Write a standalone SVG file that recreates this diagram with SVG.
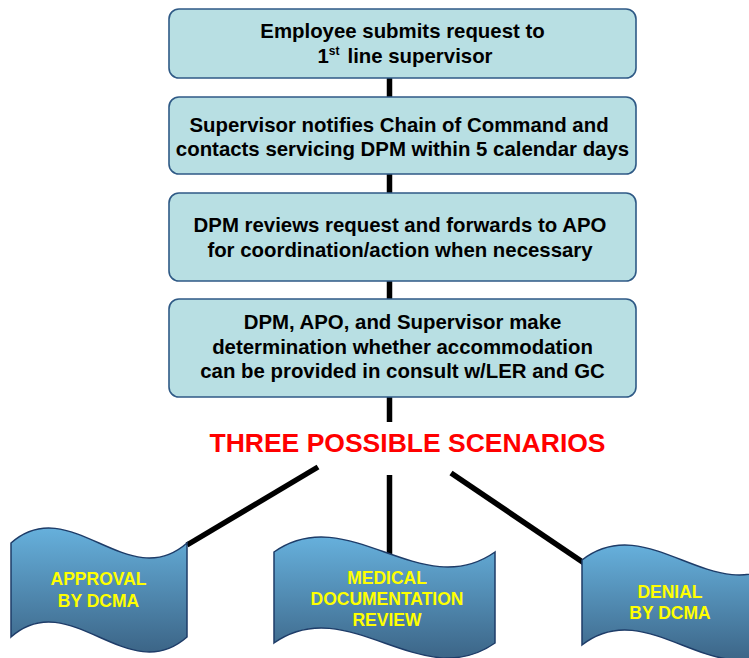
<svg xmlns="http://www.w3.org/2000/svg" width="749" height="658" viewBox="0 0 749 658">
  <defs>
    <linearGradient id="wave" x1="0" y1="0" x2="0" y2="1">
      <stop offset="0" stop-color="#66b0dc"/>
      <stop offset="1" stop-color="#3c6587"/>
    </linearGradient>
    <style>
      .box { fill: #b8dfe3; stroke: #2f5a86; stroke-width: 1.6; }
      .bt { font-family: "Liberation Sans", Arial, sans-serif; font-weight: bold; font-size: 20.4px; fill: #000; text-anchor: middle; }
      .wave { fill: url(#wave); stroke: #1e3c68; stroke-width: 1.5; }
      .wt { font-family: "Liberation Sans", Arial, sans-serif; font-weight: bold; font-size: 17.5px; fill: #ffff00; text-anchor: middle; }
      .title { font-family: "Liberation Sans", Arial, sans-serif; font-weight: bold; font-size: 26.5px; fill: #ff0000; text-anchor: middle; }
      .conn { stroke: #000; stroke-width: 5.5; fill: none; }
    </style>
  </defs>
  <rect width="749" height="658" fill="#ffffff"/>

  <g id="connectors">
    <line class="conn" x1="389.5" y1="78" x2="389.5" y2="98"/>
    <line class="conn" x1="389.5" y1="174" x2="389.5" y2="194"/>
    <line class="conn" x1="389.5" y1="281" x2="389.5" y2="300"/>
    <line class="conn" x1="389.5" y1="397" x2="389.5" y2="422"/>
    <line class="conn" x1="318" y1="467" x2="187" y2="545"/>
    <line class="conn" x1="389.5" y1="475" x2="389.5" y2="555"/>
    <line class="conn" x1="451" y1="473" x2="584" y2="563"/>
  </g>

  <g id="step1">
    <rect class="box" x="169" y="9" width="467" height="69" rx="10"/>
    <text class="bt" x="402.5" y="38">Employee submits request to</text>
    <text class="bt" x="405" y="63"><tspan>1</tspan><tspan font-size="12" dy="-8">st</tspan><tspan dy="8" dx="8">line supervisor</tspan></text>
  </g>

  <g id="step2">
    <rect class="box" x="169" y="97" width="467" height="77" rx="10"/>
    <text class="bt" x="399" y="132">Supervisor notifies Chain of Command and</text>
    <text class="bt" x="402.5" y="156">contacts servicing DPM within 5 calendar days</text>
  </g>

  <g id="step3">
    <rect class="box" x="169" y="193" width="467" height="88" rx="10"/>
    <text class="bt" x="400" y="232">DPM reviews request and forwards to APO</text>
    <text class="bt" x="400" y="257">for coordination/action when necessary</text>
  </g>

  <g id="step4">
    <rect class="box" x="169" y="299" width="467" height="98" rx="10"/>
    <text class="bt" x="402.5" y="329">DPM, APO, and Supervisor make</text>
    <text class="bt" x="402.5" y="354">determination whether accommodation</text>
    <text class="bt" x="402.5" y="378">can be provided in consult w/LER and GC</text>
  </g>

  <g id="scenarios">
    <text class="title" x="407.5" y="452">THREE POSSIBLE SCENARIOS</text>
  </g>

  <g id="approval">
    <path class="wave" d="M 11 543 C 70 491, 128 595, 187 543 L 187 637 C 128 689, 70 585, 11 637 Z"/>
    <text class="wt" x="98.5" y="585">APPROVAL</text>
    <text class="wt" x="98.5" y="607">BY DCMA</text>
  </g>

  <g id="medical">
    <path class="wave" d="M 274 552 C 348 500, 421 604, 495 552 L 495 643 C 421 695, 348 591, 274 643 Z"/>
    <text class="wt" x="387" y="584">MEDICAL</text>
    <text class="wt" x="387" y="605">DOCUMENTATION</text>
    <text class="wt" x="387" y="626">REVIEW</text>
  </g>

  <g id="denial">
    <path class="wave" d="M 582 560 C 649 508, 715 612, 782 560 L 782 645 C 715 697, 649 593, 582 645 Z"/>
    <text class="wt" x="670" y="598">DENIAL</text>
    <text class="wt" x="670" y="619">BY DCMA</text>
  </g>
</svg>
